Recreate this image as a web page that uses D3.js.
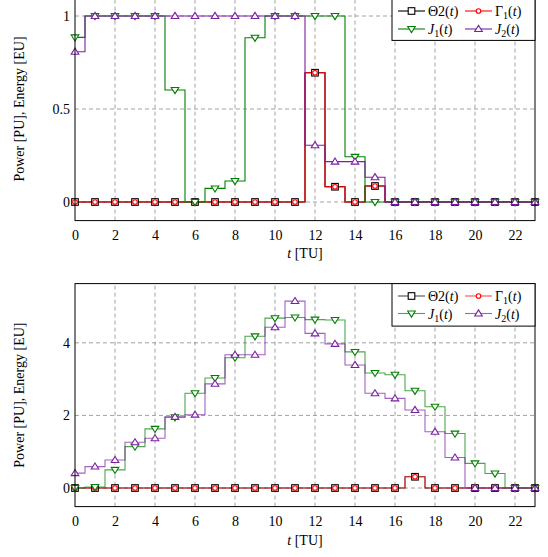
<!DOCTYPE html>
<html><head><meta charset="utf-8">
<script src="https://cdn.jsdelivr.net/npm/d3@7"></script>
<style>
body{margin:0;background:#fff;}
svg{display:block;}
</style></head>
<body><svg id="c" width="548" height="557"></svg>
<script>
const tValues = [0,1,2,3,4,5,6,7,8,9,10,11,12,13,14,15,16,17,18,19,20,21,22,23];
const xTicks = [0,2,4,6,8,10,12,14,16,18,20,22];

// top panel
const topTheta2 = [0,0,0,0,0,0,0,0,0,0,0,0,0.695,0.082,0,0.086,0,0,0,0,0,0,0,0];
const topGamma1 = [0,0,0,0,0,0,0,0,0,0,0,0,0.695,0.082,0,0.086,0,0,0,0,0,0,0,0];
const topJ1 = [0.885,1,1,1,1,0.602,0,0.073,0.113,0.883,1,1,1,1,0.243,0,0,0,0,0,0,0,0,0];
const topJ2 = [0.808,1,1,1,1,1,1,1,1,1,1,1,0.305,0.217,0.217,0.133,0,0,0,0,0,0,0,0];
const topYTicks = [0,0.5,1];
const topYTickLabels = ["0","0.5","1"];

// bottom panel
const botTheta2 = [0,0,0,0,0,0,0,0,0,0,0,0,0,0,0,0,0,0.31,0,0,0,0,0,0];
const botGamma1 = [0,0,0,0,0,0,0,0,0,0,0,0,0,0,0,0,0,0.31,0,0,0,0,0,0];
const botJ1 = [0,0.03,0.5,1.14,1.63,1.95,2.61,3.03,3.59,4.18,4.68,4.70,4.64,4.63,3.75,3.17,3.12,2.68,2.24,1.50,0.68,0.40,0,0];
const botJ2 = [0.41,0.59,0.77,1.26,1.37,1.96,2.02,2.87,3.67,3.67,4.43,5.15,4.26,3.97,3.39,2.61,2.47,2.15,1.55,0.84,0,0,0,0];
const botYTicks = [0,2,4];
const botYTickLabels = ["0","2","4"];

const seriesStyle = [
  {key:"theta", color:"#000000", marker:"square"},
  {key:"gamma", color:"#ff0000", marker:"circle"},
  {key:"j1", color:"#008000", marker:"tridown"},
  {key:"j2", color:"#7b1fa2", marker:"triup"}
];

const FONT = "font-family:'Liberation Serif','Times New Roman',serif;";
const svg = d3.select("#c");
const X0 = 75, X1 = 535;

function marker(g, type, x, y, color){
  if(type==="square"){
    g.append("rect").attr("x",x-3.3).attr("y",y-3.3).attr("width",6.6).attr("height",6.6)
      .attr("fill","#fff").attr("stroke",color).attr("stroke-width",1.1);
  } else if(type==="circle"){
    g.append("circle").attr("cx",x).attr("cy",y).attr("r",2.3)
      .attr("fill","#fff").attr("stroke",color).attr("stroke-width",1.1);
  } else if(type==="tridown"){
    const s=3.8;
    g.append("path").attr("d",`M${x-s},${y-s*0.65}L${x+s},${y-s*0.65}L${x},${y+s*0.95}Z`)
      .attr("fill","#fff").attr("stroke",color).attr("stroke-width",1.1);
  } else {
    const s=3.8;
    g.append("path").attr("d",`M${x-s},${y+s*0.65}L${x+s},${y+s*0.65}L${x},${y-s*0.95}Z`)
      .attr("fill","#fff").attr("stroke",color).attr("stroke-width",1.1);
  }
}

function panel(cfg){
  const x = d3.scaleLinear().domain([0,23]).range([X0,X1]);
  const y = d3.scaleLinear().domain(cfg.ydom).range([cfg.yb,cfg.yt]);
  const g = svg.append("g");
  // grid
  const grid = g.append("g").attr("stroke","#8a8a8a").attr("stroke-width",0.8).attr("stroke-dasharray","4,3");
  xTicks.forEach(v=>{ if(v>0) grid.append("line").attr("x1",x(v)).attr("x2",x(v)).attr("y1",cfg.yb).attr("y2",cfg.yt);});
  cfg.yticks.forEach(v=>{ grid.append("line").attr("x1",X0).attr("x2",X1).attr("y1",y(v)).attr("y2",y(v));});
  // axes via d3
  const xa = g.append("g").attr("transform",`translate(0,${cfg.yb})`)
    .call(d3.axisBottom(x).tickValues(xTicks).tickSize(0).tickPadding(9).tickFormat(d3.format("d")));
  xa.select(".domain").remove();
  xa.selectAll("text").attr("style",FONT+"font-size:14px;fill:#000");
  const ya = g.append("g").attr("transform",`translate(${X0},0)`)
    .call(d3.axisLeft(y).tickValues(cfg.yticks).tickSize(0).tickPadding(5).tickFormat((d,i)=>cfg.ylabels[i]));
  ya.select(".domain").remove();
  ya.selectAll("text").attr("style",FONT+"font-size:14px;fill:#000");
  // series
  const data = cfg.series;
  const line = d3.line().curve(d3.curveStep).x((d,i)=>x(tValues[i])).y(d=>y(d));
  seriesStyle.forEach((s,k)=>{
    g.append("path").attr("d",line(data[k])).attr("fill","none").attr("stroke",s.color)
      .attr("stroke-width",1.1).attr("stroke-opacity",cfg.op);
  });
  seriesStyle.forEach((s,k)=>{
    const mg = g.append("g");
    data[k].forEach((v,i)=>marker(mg,s.marker,x(tValues[i]),y(v),s.color));
  });
  // frame
  g.append("rect").attr("x",X0).attr("y",cfg.yt).attr("width",X1-X0).attr("height",cfg.yb-cfg.yt)
    .attr("fill","none").attr("stroke","#000").attr("stroke-width",1);
  // legend
  const lg = g.append("g");
  const lt = cfg.yt;
  lg.append("rect").attr("x",392).attr("y",lt).attr("width",X1-392).attr("height",cfg.legH)
    .attr("fill","#fff").attr("stroke","#000").attr("stroke-width",1);
  const rows = [cfg.r1, cfg.r2];
  const items = [
    {s:0, col:0, row:0, parts:[["Θ2(",""],["t","italic"],[")",""]]},
    {s:1, col:1, row:0, parts:[["Γ",""],["1","sub"],["(","up"],["t","italic"],[")",""]]},
    {s:2, col:0, row:1, parts:[["J","italic"],["1","sub"],["(","up"],["t","italic"],[")",""]]},
    {s:3, col:1, row:1, parts:[["J","italic"],["2","sub"],["(","up"],["t","italic"],[")",""]]}
  ];
  const colX = [398, 465];
  items.forEach(it=>{
    const st = seriesStyle[it.s];
    const yy = rows[it.row], x0 = colX[it.col];
    lg.append("line").attr("x1",x0).attr("x2",x0+27).attr("y1",yy).attr("y2",yy)
      .attr("stroke",st.color).attr("stroke-width",1.1).attr("stroke-opacity",cfg.op);
    marker(lg, st.marker, x0+13.5, yy, st.color);
    const tx = lg.append("text").attr("x",x0+30).attr("y",yy+5).attr("style",FONT+"font-size:14px;fill:#000");
    it.parts.forEach(p=>{
      const ts = tx.append("tspan").text(p[0]);
      if(p[1]==="italic") ts.attr("font-style","italic");
      if(p[1]==="sub") ts.attr("font-size",10).attr("dy",3);
      if(p[1]==="up") ts.attr("dy",-3);
    });
  });
  // labels
  const xl = g.append("text").attr("x",(X0+X1)/2).attr("y",cfg.xlabY).attr("text-anchor","middle")
    .attr("style",FONT+"font-size:14px;fill:#000");
  xl.append("tspan").attr("font-style","italic").text("t");
  xl.append("tspan").text(" [TU]");
  g.append("text").attr("transform",`translate(24,${(cfg.yt+cfg.yb)/2}) rotate(-90)`)
    .attr("text-anchor","middle").attr("style",FONT+"font-size:14px;fill:#000").text("Power [PU], Energy [EU]");
}

panel({ydom:[-0.1,1.1], yb:220.6, yt:-2.6, yticks:topYTicks, ylabels:topYTickLabels,
  series:[topTheta2, topGamma1, topJ1, topJ2], op:1, legH:43, r1:11, r2:29, xlabY:258});
panel({ydom:[-0.512,5.632], yb:506.6, yt:283.6, yticks:botYTicks, ylabels:botYTickLabels,
  series:[botTheta2, botGamma1, botJ1, botJ2], op:0.7, legH:42.5, r1:296, r2:313.5, xlabY:545});
</script></body></html>
